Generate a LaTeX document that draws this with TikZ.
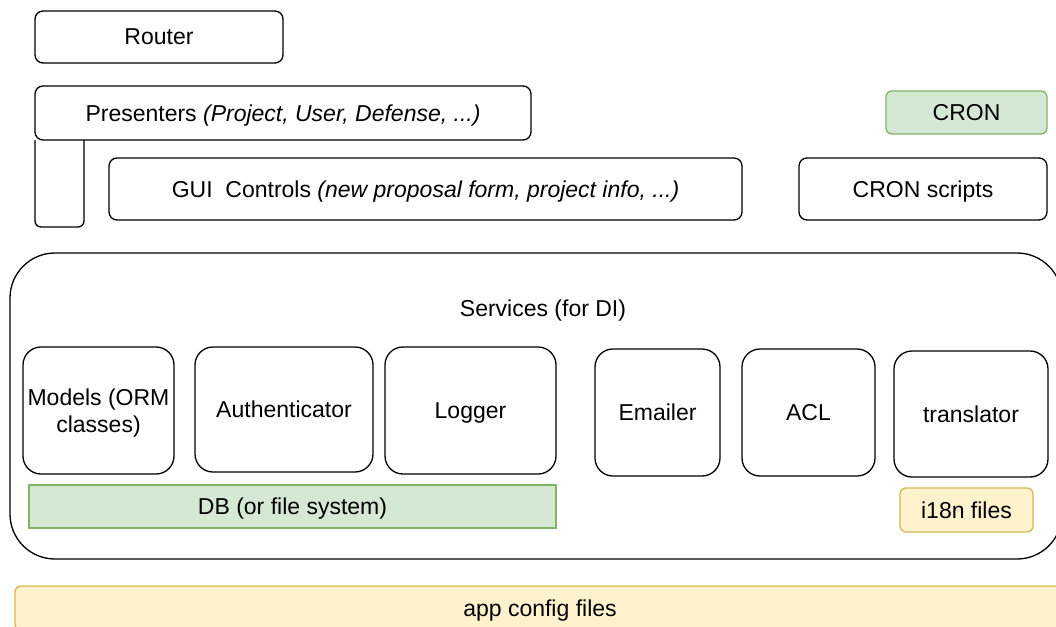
\documentclass[tikz,border=0pt]{standalone}
\usepackage{fontspec}
\setmainfont{Liberation Sans}
\definecolor{gfill}{HTML}{D5E8D4}
\definecolor{gline}{HTML}{82B366}
\definecolor{yfill}{HTML}{FFF2CC}
\definecolor{yline}{HTML}{D6B656}
\begin{document}
\begin{tikzpicture}[x=1pt,y=-1pt,
  every node/.style={font=\fontsize{23}{27}\selectfont,text depth=0pt},
  blk/.style={draw=black,line width=1.3pt,rounded corners=8pt,fill=white,inner sep=0pt,align=center},
  svc/.style={blk,rounded corners=18pt},
  greenblk/.style={draw=gline,line width=1.3pt,fill=gfill,inner sep=0pt,align=center},
  yellowblk/.style={draw=yline,line width=1.3pt,fill=yfill,rounded corners=6pt,inner sep=0pt,align=center}]
\useasboundingbox (0,0) rectangle (1056,626);
\clip (0,0) rectangle (1056,626);
% services container
\draw[line width=1.3pt,rounded corners=45pt] (10,253) rectangle (1062,559);
\node (services) at (543,308) {Services (for DI)};
% app config
\node[yellowblk,minimum width=1050pt,minimum height=44pt] (appcfg) at (540,608) {};
\node at (540,608) {app config files};
% top layer
\node[blk,minimum width=248pt,minimum height=52pt] (router) at (159,37) {Router};
\draw[line width=1.3pt,rounded corners=6pt] (35,140) -- (35,227) -- (84,227) -- (84,140);
\node[blk,minimum width=496pt,minimum height=54pt] (presenters) at (283,113) {Presenters \textit{(Project, User, Defense, ...)}};
\node[blk,minimum width=633pt,minimum height=62pt] (gui) at (425.5,189) {GUI\ \ Controls \textit{(new proposal form, project info, ...)}};
\node[greenblk,rounded corners=6pt,minimum width=161pt,minimum height=43pt] (cron) at (966.5,112.5) {CRON};
\node[blk,minimum width=248pt,minimum height=62pt] (cronscripts) at (923,189) {CRON scripts};
% services
\node[svc,minimum width=151pt,minimum height=127pt] (models) at (98.5,410.5) {Models (ORM\\classes)};
\node[svc,minimum width=178pt,minimum height=125pt] (auth) at (284,409.5) {Authenticator};
\node[svc,minimum width=171pt,minimum height=127pt] (logger) at (470.5,410.5) {Logger};
\node[svc,minimum width=125pt,minimum height=127pt] (emailer) at (657.5,412.5) {Emailer};
\node[svc,minimum width=133pt,minimum height=127pt] (acl) at (808.5,412.5) {ACL};
\node[svc,minimum width=154pt,minimum height=126pt] (translator) at (971,414) {translator};
\node[greenblk,minimum width=527pt,minimum height=43pt] (db) at (292.5,506.5) {DB (or file system)};
\node[yellowblk,minimum width=133pt,minimum height=44pt] (i18n) at (966.5,510) {i18n files};
\end{tikzpicture}
\end{document}
